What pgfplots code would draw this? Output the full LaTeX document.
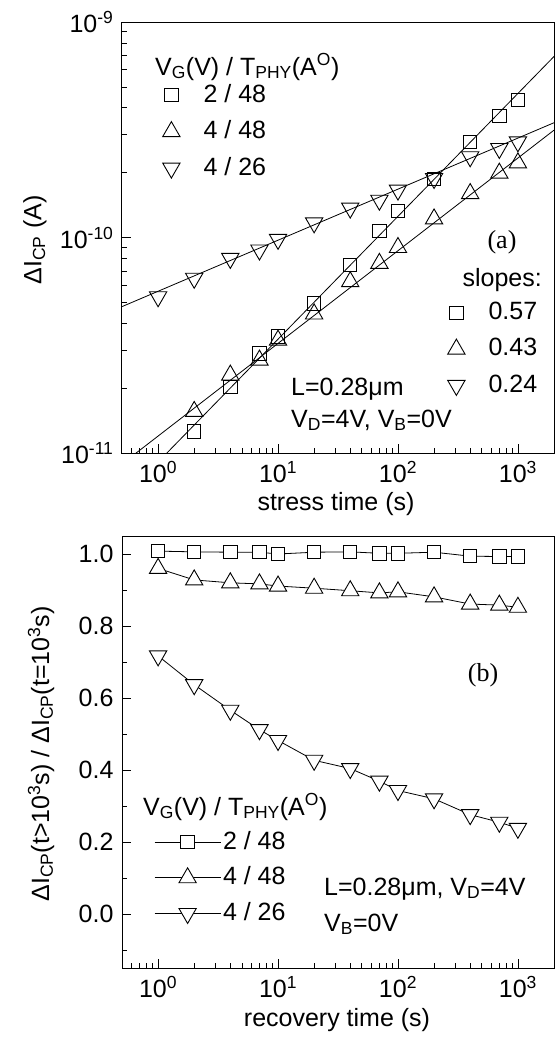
\documentclass[border=0pt]{standalone}
\usepackage{fontspec}
\setmainfont{Liberation Sans}
\newfontfamily\seriffont{Liberation Serif}
\usepackage{pgfplots}
\pgfplotsset{compat=1.18}

\pgfplotstableread{
x sq tu td
1 nan nan 5.31e-11
2 1.26e-11 1.56e-11 6.47e-11
4 2.03e-11 2.30e-11 8.00e-11
7 2.90e-11 2.70e-11 8.75e-11
10 3.47e-11 3.34e-11 9.81e-11
20 4.95e-11 4.42e-11 1.17e-10
40 7.45e-11 6.24e-11 1.37e-10
70 1.07e-10 7.59e-11 1.49e-10
100 1.33e-10 8.99e-11 1.66e-10
200 1.87e-10 1.22e-10 1.88e-10
400 2.78e-10 1.60e-10 2.37e-10
700 3.67e-10 1.99e-10 2.59e-10
1000 4.35e-10 2.22e-10 2.78e-10
}\stress

\pgfplotstableread{
x sq tu td
1 1.008 0.960 0.717
2 1.006 0.928 0.637
4 1.005 0.920 0.566
7 1.005 0.917 0.512
10 1.000 0.911 0.482
20 1.005 0.905 0.427
40 1.006 0.898 0.404
70 1.002 0.892 0.369
100 1.002 0.895 0.343
200 1.005 0.881 0.320
400 0.994 0.861 0.276
700 0.993 0.858 0.255
1000 0.993 0.852 0.238
}\recov

\pgfplotsset{
  mycommon/.style={
    scale only axis, width=432pt,
    xmin=0.5, xmax=2000,
    xtick={1,10,100,1000},
    xticklabels={10\textsuperscript{0},10\textsuperscript{1},10\textsuperscript{2},10\textsuperscript{3}},
    minor xtick={0.6,0.7,0.8,0.9,2,3,4,5,6,7,8,9,20,30,40,50,60,70,80,90,200,300,400,500,600,700,800,900},
    tick align=inside, tick pos=left,
    major tick length=9pt, minor tick length=5pt,
    every tick/.style={black, line width=0.8pt},
    axis line style={line width=1pt},
    legend cell align=left,
  },
  sqm/.style={black, line width=0.8pt, mark=square, mark size=6.7pt, mark options={line width=0.9pt}},
  tum/.style={black, line width=0.8pt, mark=triangle, mark size=10pt, mark options={line width=0.9pt}},
  tdm/.style={black, line width=0.8pt, mark=triangle, mark size=10pt, mark options={line width=0.9pt, rotate=180}},
}

\begin{document}
\fontsize{25}{30}\selectfont
\begin{tikzpicture}[font=\fontsize{25}{30}\selectfont]
\useasboundingbox (0,0) rectangle (559pt,-1037pt);

% ---------- top panel ----------
\begin{axis}[xmode=log, ymode=log, mycommon, height=431pt,
  at={(122pt,-453pt)}, anchor=south west,
  ymin=1e-11, ymax=1e-9,
  ytick={1e-11,1e-10,1e-9},
  yticklabels={10\textsuperscript{-11},10\textsuperscript{-10},10\textsuperscript{-9}},
  minor ytick={2e-11,3e-11,4e-11,5e-11,6e-11,7e-11,8e-11,9e-11,2e-10,3e-10,4e-10,5e-10,6e-10,7e-10,8e-10,9e-10},
  legend style={draw=none, fill=none, inner sep=0pt,
    at={(axis description cs:0.0938,0.8608)}, anchor=north west,
    row sep=10.6pt, /tikz/every odd column/.append style={column sep=21.5pt}},
]
\addplot[sqm, only marks] table[x=x, y=sq] {\stress};
\addplot[tum, only marks] table[x=x, y=tu] {\stress};
\addplot[tdm, only marks] table[x=x, y=td] {\stress};
\legend{2 / 48, 4 / 48, 4 / 26}
\addplot[black, line width=0.8pt, forget plot] coordinates {(0.5,6.12e-12) (2000,6.92e-10)};
\addplot[black, line width=0.8pt, forget plot] coordinates {(0.5,8.9e-12) (2000,3.15e-10)};
\addplot[black, line width=0.8pt, forget plot] coordinates {(0.5,4.78e-11) (2000,3.41e-10)};
\end{axis}

% slopes legend (overlay axis)
\begin{axis}[scale only axis, width=432pt, height=431pt,
  at={(122pt,-453pt)}, anchor=south west, hide axis,
  xmin=0, xmax=1, ymin=0, ymax=1, legend cell align=left,
  legend style={draw=none, fill=none, inner sep=0pt,
    at={(axis description cs:0.7535,0.355)}, anchor=north west,
    row sep=11.1pt, /tikz/every odd column/.append style={column sep=21.5pt}},
]
\addlegendimage{sqm, only marks}
\addlegendimage{tum, only marks}
\addlegendimage{tdm, only marks}
\legend{0.57, 0.43, 0.24}
\end{axis}

% ---------- bottom panel ----------
\begin{axis}[xmode=log, mycommon, height=432pt,
  at={(122pt,-968pt)}, anchor=south west,
  ymin=-0.15, ymax=1.05,
  ytick={0,0.2,0.4,0.6,0.8,1.0},
  yticklabels={0.0,0.2,0.4,0.6,0.8,1.0},
  minor ytick={-0.1,0.1,0.3,0.5,0.7,0.9},
  legend style={draw=none, fill=none, inner sep=0pt,
    at={(axis description cs:0.0741,0.3218)}, anchor=north west,
    row sep=9.8pt},
  legend image code/.code={\draw[mark repeat=2,mark phase=2,#1] plot coordinates {(0pt,0pt) (33pt,0pt) (66pt,0pt)};},
]
\addplot[sqm, mark=square*, mark options={fill=white, line width=0.9pt}] table[x=x, y=sq] {\recov};
\addplot[tum, mark=triangle*, mark options={fill=white, line width=0.9pt}] table[x=x, y=tu] {\recov};
\addplot[tdm, mark=triangle*, mark options={fill=white, line width=0.9pt, rotate=180}] table[x=x, y=td] {\recov};
\legend{2 / 48, 4 / 48, 4 / 26}
\end{axis}

% ---------- texts ----------
\node[anchor=base west, inner sep=0pt] at (155pt,-75pt) {V\textsubscript{G}(V) / T\textsubscript{PHY}(A\textsuperscript{O})};
\node[anchor=base east, inner sep=0pt] at (542pt,-286pt) {slopes:};
\node[inner sep=0pt, font=\seriffont\fontsize{26}{30}\selectfont] at (502pt,-242pt) {(a)};
\node[anchor=base west, inner sep=0pt] at (291pt,-395pt) {L=0.28μm};
\node[anchor=base west, inner sep=0pt] at (291pt,-427pt) {V\textsubscript{D}=4V, V\textsubscript{B}=0V};
\node[anchor=base, inner sep=0pt] at (336pt,-510pt) {stress time (s)};
\node[rotate=90, inner sep=0pt] at (35pt,-240pt) {ΔI\textsubscript{CP} (A)};

\node[inner sep=0pt, font=\seriffont\fontsize{26}{30}\selectfont] at (483pt,-675pt) {(b)};
\node[anchor=base west, inner sep=0pt] at (143pt,-815pt) {V\textsubscript{G}(V) / T\textsubscript{PHY}(A\textsuperscript{O})};
\node[anchor=base west, inner sep=0pt] at (324pt,-895pt) {L=0.28μm, V\textsubscript{D}=4V};
\node[anchor=base west, inner sep=0pt] at (324pt,-931pt) {V\textsubscript{B}=0V};
\node[anchor=base, inner sep=0pt] at (337pt,-1026pt) {recovery time (s)};
\node[rotate=90, inner sep=0pt] at (41pt,-754pt) {ΔI\textsubscript{CP}(t>10\textsuperscript{3}s) / ΔI\textsubscript{CP}(t=10\textsuperscript{3}s)};
\end{tikzpicture}
\end{document}
